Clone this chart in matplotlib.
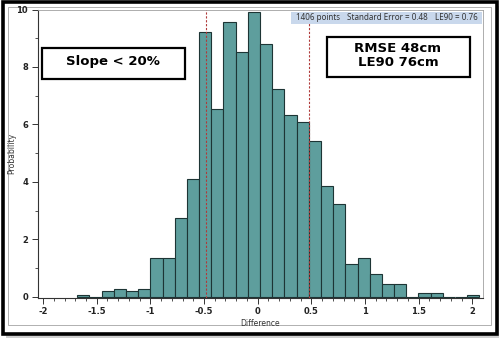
import numpy as np
import matplotlib
matplotlib.use("Agg")
import matplotlib.pyplot as plt
from matplotlib.patches import Rectangle

# histogram of differences (percent of 1406 points per bin)
bin_start = -1.682
bin_width = 0.1136
probability = [0.08, 0.0, 0.22, 0.28, 0.22, 0.28, 1.35, 1.35, 2.75, 4.10,
               9.23, 6.54, 9.58, 8.51, 9.93, 8.80, 7.24, 6.34, 6.10, 5.41,
               3.86, 3.22, 1.14, 1.36, 0.79, 0.43, 0.43, 0.0, 0.14, 0.14,
               0.0, 0.0, 0.08]
std_error = 0.48
stats_labels = ["1406 points", "Standard Error = 0.48", "LE90 = 0.76"]
box_left = "Slope < 20%"
box_right = "RMSE 48cm\nLE90 76cm"

W, H = 500, 340
fig = plt.figure(figsize=(W / 100, H / 100), dpi=100)


def fx(x):
    return x / W


def fy(y):
    return 1 - y / H


def frect(x0, y0, x1, y1, **kw):
    r = Rectangle((fx(x0), fy(y1)), fx(x1) - fx(x0), fy(y0) - fy(y1),
                  transform=fig.transFigure, **kw)
    fig.add_artist(r)
    return r


# screenshot frame
frect(6, 6, 499, 338, facecolor="#cfcfcf", edgecolor="none", zorder=0)
frect(3, 2, 497, 334, facecolor="white", edgecolor="black", lw=2.6, zorder=1)
frect(8, 7, 491, 325, facecolor="none", edgecolor="#b0b0b0", lw=0.7, zorder=2)

ax = fig.add_axes([fx(37.7), fy(297.7), fx(483) - fx(37.7), fy(9.5) - fy(297.7)])
ax.set_zorder(3)
ax.patch.set_alpha(0)

lefts = bin_start + bin_width * np.arange(len(probability))
ax.bar(lefts, probability, width=bin_width, align="edge",
       color="#5e9e9d", edgecolor="#1d3535", linewidth=0.8, zorder=2)

for v in (-std_error, std_error):
    ax.axvline(v, color="#b03a3a", lw=0.8, ls=(0, (2, 1.5)), zorder=3)

ax.set_xlim(-2.05, 2.10)
ax.set_ylim(-0.03, 10)
ax.set_xticks([-2, -1.5, -1, -0.5, 0, 0.5, 1, 1.5, 2])
ax.set_xticklabels(["-2", "-1.5", "-1", "-0.5", "0", "0.5", "1", "1.5", "2"])
ax.set_xticks(np.arange(-2, 2.05, 0.1), minor=True)
ax.set_yticks([0, 2, 4, 6, 8, 10])
ax.set_yticks(np.arange(0, 10.1, 1), minor=True)

for s in ("left", "bottom"):
    ax.spines[s].set_color("#333333")
    ax.spines[s].set_linewidth(0.8)
for s in ("top", "right"):
    ax.spines[s].set_color("#a0a0a0")
    ax.spines[s].set_linewidth(0.6)

ax.tick_params(which="major", length=4, width=0.7, color="#333333",
               labelsize=6, labelcolor="#222222", pad=3)
ax.tick_params(which="minor", length=2, width=0.6, color="#333333")
for lbl in ax.get_xticklabels() + ax.get_yticklabels():
    lbl.set_fontweight("bold")

ax.set_xlabel("Difference", fontsize=5.5, color="#333333", labelpad=2)
ax.set_ylabel("Probability", fontsize=5.5, color="#333333")
ax.yaxis.set_label_coords((16 - 37.7) / (483 - 37.7), 0.5)

# stats band
frect(291, 12, 482, 24, facecolor="#c9d8ec", edgecolor="none", zorder=4)
for label, cx in zip(stats_labels, [317.5, 387, 456]):
    fig.text(fx(cx), fy(18), label, ha="center", va="center", fontsize=5.8,
             family="Noto Sans", color="#333333", zorder=5)

# annotation boxes
frect(41.7, 48.3, 185, 79, facecolor="white", edgecolor="black", lw=1.6, zorder=4)
fig.text(fx(113), fy(62), box_left, ha="center", va="center", fontsize=9.5,
         fontweight="bold", zorder=5)
frect(326.7, 36.7, 470, 77.3, facecolor="white", edgecolor="black", lw=1.6, zorder=4)
fig.text(fx(398), fy(55.5), box_right, ha="center", va="center", fontsize=9.5,
         fontweight="bold", linespacing=1.05, zorder=5)

fig.savefig("out.png", dpi=100)
